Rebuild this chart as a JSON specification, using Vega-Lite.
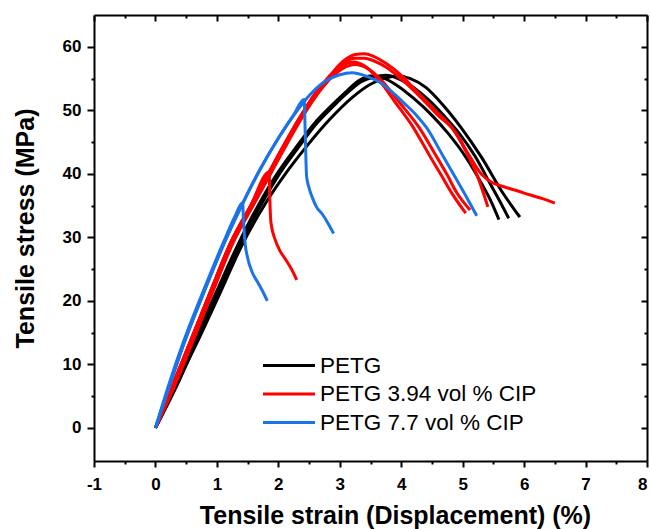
{
  "$schema": "https://vega.github.io/schema/vega-lite/v6.json",
  "width": 553,
  "height": 446,
  "autosize": {"type": "none"},
  "padding": {"left": 94, "top": 15, "right": 3, "bottom": 68},
  "background": "white",
  "config": {"view": {"stroke": null}, "font": "Liberation Sans"},
  "data": {"values": [
    {"s":"PETG","c":"B1","x":0,"y":0},{"s":"PETG","c":"B1","x":0.32,"y":6.9},{"s":"PETG","c":"B1","x":0.64,"y":13.9},{"s":"PETG","c":"B1","x":1.0,"y":21.6},{"s":"PETG","c":"B1","x":1.32,"y":28.4},{"s":"PETG","c":"B1","x":1.7,"y":35.5},{"s":"PETG","c":"B1","x":2.0,"y":40.3},{"s":"PETG","c":"B1","x":2.29,"y":44.2},{"s":"PETG","c":"B1","x":2.6,"y":48.1},{"s":"PETG","c":"B1","x":2.84,"y":50.5},{"s":"PETG","c":"B1","x":3.1,"y":52.9},{"s":"PETG","c":"B1","x":3.3,"y":54.6},{"s":"PETG","c":"B1","x":3.5,"y":55.4},{"s":"PETG","c":"B1","x":3.7,"y":55.1},{"s":"PETG","c":"B1","x":3.95,"y":53.8},{"s":"PETG","c":"B1","x":4.2,"y":51.9},{"s":"PETG","c":"B1","x":4.5,"y":49.2},{"s":"PETG","c":"B1","x":4.76,"y":46.4},{"s":"PETG","c":"B1","x":5.06,"y":42.5},{"s":"PETG","c":"B1","x":5.3,"y":38.6},{"s":"PETG","c":"B1","x":5.45,"y":35.9},{"s":"PETG","c":"B1","x":5.59,"y":32.8},
    {"s":"PETG","c":"B2","x":0,"y":0},{"s":"PETG","c":"B2","x":0.36,"y":6.9},{"s":"PETG","c":"B2","x":0.68,"y":13.9},{"s":"PETG","c":"B2","x":1.04,"y":21.6},{"s":"PETG","c":"B2","x":1.36,"y":28.4},{"s":"PETG","c":"B2","x":1.74,"y":35.5},{"s":"PETG","c":"B2","x":2.04,"y":40.3},{"s":"PETG","c":"B2","x":2.33,"y":44.2},{"s":"PETG","c":"B2","x":2.64,"y":48.1},{"s":"PETG","c":"B2","x":2.88,"y":50.5},{"s":"PETG","c":"B2","x":3.14,"y":52.9},{"s":"PETG","c":"B2","x":3.35,"y":54.5},{"s":"PETG","c":"B2","x":3.55,"y":55.2},{"s":"PETG","c":"B2","x":3.75,"y":55.5},{"s":"PETG","c":"B2","x":3.95,"y":55.0},{"s":"PETG","c":"B2","x":4.2,"y":53.6},{"s":"PETG","c":"B2","x":4.45,"y":51.6},{"s":"PETG","c":"B2","x":4.7,"y":49.1},{"s":"PETG","c":"B2","x":4.95,"y":46.3},{"s":"PETG","c":"B2","x":5.2,"y":42.8},{"s":"PETG","c":"B2","x":5.45,"y":38.4},{"s":"PETG","c":"B2","x":5.62,"y":35.4},{"s":"PETG","c":"B2","x":5.75,"y":33.0},
    {"s":"PETG","c":"B3","x":0,"y":0},{"s":"PETG","c":"B3","x":0.35,"y":7.0},{"s":"PETG","c":"B3","x":0.7,"y":13.9},{"s":"PETG","c":"B3","x":1.05,"y":21.2},{"s":"PETG","c":"B3","x":1.4,"y":28.6},{"s":"PETG","c":"B3","x":1.8,"y":35.5},{"s":"PETG","c":"B3","x":2.1,"y":39.8},{"s":"PETG","c":"B3","x":2.45,"y":44.2},{"s":"PETG","c":"B3","x":2.83,"y":48.5},{"s":"PETG","c":"B3","x":3.2,"y":52.0},{"s":"PETG","c":"B3","x":3.5,"y":54.1},{"s":"PETG","c":"B3","x":3.75,"y":55.1},{"s":"PETG","c":"B3","x":3.95,"y":55.4},{"s":"PETG","c":"B3","x":4.15,"y":55.0},{"s":"PETG","c":"B3","x":4.4,"y":53.6},{"s":"PETG","c":"B3","x":4.7,"y":50.6},{"s":"PETG","c":"B3","x":4.98,"y":47.2},{"s":"PETG","c":"B3","x":5.3,"y":42.7},{"s":"PETG","c":"B3","x":5.66,"y":36.9},{"s":"PETG","c":"B3","x":5.93,"y":33.2},
    {"s":"PETG 3.94 vol % CIP","c":"R1","x":0,"y":0},{"s":"PETG 3.94 vol % CIP","c":"R1","x":0.29,"y":7.0},{"s":"PETG 3.94 vol % CIP","c":"R1","x":0.58,"y":13.9},{"s":"PETG 3.94 vol % CIP","c":"R1","x":0.9,"y":21.6},{"s":"PETG 3.94 vol % CIP","c":"R1","x":1.23,"y":29.3},{"s":"PETG 3.94 vol % CIP","c":"R1","x":1.55,"y":35.0},{"s":"PETG 3.94 vol % CIP","c":"R1","x":1.85,"y":40.3},{"s":"PETG 3.94 vol % CIP","c":"R1","x":2.1,"y":44.7},{"s":"PETG 3.94 vol % CIP","c":"R1","x":2.35,"y":48.9},{"s":"PETG 3.94 vol % CIP","c":"R1","x":2.62,"y":52.9},{"s":"PETG 3.94 vol % CIP","c":"R1","x":2.85,"y":55.6},{"s":"PETG 3.94 vol % CIP","c":"R1","x":3.05,"y":57.7},{"s":"PETG 3.94 vol % CIP","c":"R1","x":3.25,"y":58.8},{"s":"PETG 3.94 vol % CIP","c":"R1","x":3.4,"y":58.9},{"s":"PETG 3.94 vol % CIP","c":"R1","x":3.55,"y":58.5},{"s":"PETG 3.94 vol % CIP","c":"R1","x":3.75,"y":57.4},{"s":"PETG 3.94 vol % CIP","c":"R1","x":4.0,"y":55.5},{"s":"PETG 3.94 vol % CIP","c":"R1","x":4.25,"y":53.0},{"s":"PETG 3.94 vol % CIP","c":"R1","x":4.55,"y":50.0},{"s":"PETG 3.94 vol % CIP","c":"R1","x":4.83,"y":47.2},{"s":"PETG 3.94 vol % CIP","c":"R1","x":5.05,"y":43.6},{"s":"PETG 3.94 vol % CIP","c":"R1","x":5.25,"y":39.4},{"s":"PETG 3.94 vol % CIP","c":"R1","x":5.41,"y":34.8},
    {"s":"PETG 3.94 vol % CIP","c":"R2","x":0,"y":0},{"s":"PETG 3.94 vol % CIP","c":"R2","x":0.32,"y":7.0},{"s":"PETG 3.94 vol % CIP","c":"R2","x":0.61,"y":13.9},{"s":"PETG 3.94 vol % CIP","c":"R2","x":0.93,"y":21.6},{"s":"PETG 3.94 vol % CIP","c":"R2","x":1.26,"y":29.3},{"s":"PETG 3.94 vol % CIP","c":"R2","x":1.58,"y":35.0},{"s":"PETG 3.94 vol % CIP","c":"R2","x":1.88,"y":40.3},{"s":"PETG 3.94 vol % CIP","c":"R2","x":2.13,"y":44.7},{"s":"PETG 3.94 vol % CIP","c":"R2","x":2.38,"y":48.9},{"s":"PETG 3.94 vol % CIP","c":"R2","x":2.64,"y":52.9},{"s":"PETG 3.94 vol % CIP","c":"R2","x":2.87,"y":55.5},{"s":"PETG 3.94 vol % CIP","c":"R2","x":3.05,"y":57.4},{"s":"PETG 3.94 vol % CIP","c":"R2","x":3.25,"y":58.2},{"s":"PETG 3.94 vol % CIP","c":"R2","x":3.4,"y":58.2},{"s":"PETG 3.94 vol % CIP","c":"R2","x":3.55,"y":57.8},{"s":"PETG 3.94 vol % CIP","c":"R2","x":3.75,"y":56.8},{"s":"PETG 3.94 vol % CIP","c":"R2","x":4.0,"y":54.9},{"s":"PETG 3.94 vol % CIP","c":"R2","x":4.3,"y":52.2},{"s":"PETG 3.94 vol % CIP","c":"R2","x":4.6,"y":49.2},{"s":"PETG 3.94 vol % CIP","c":"R2","x":4.87,"y":46.7},{"s":"PETG 3.94 vol % CIP","c":"R2","x":5.1,"y":43.0},{"s":"PETG 3.94 vol % CIP","c":"R2","x":5.3,"y":40.0},{"s":"PETG 3.94 vol % CIP","c":"R2","x":5.45,"y":38.8},{"s":"PETG 3.94 vol % CIP","c":"R2","x":5.66,"y":38.0},{"s":"PETG 3.94 vol % CIP","c":"R2","x":5.9,"y":37.3},{"s":"PETG 3.94 vol % CIP","c":"R2","x":6.09,"y":36.7},{"s":"PETG 3.94 vol % CIP","c":"R2","x":6.3,"y":36.1},{"s":"PETG 3.94 vol % CIP","c":"R2","x":6.5,"y":35.4},
    {"s":"PETG 3.94 vol % CIP","c":"R3","x":0,"y":0},{"s":"PETG 3.94 vol % CIP","c":"R3","x":0.29,"y":7.0},{"s":"PETG 3.94 vol % CIP","c":"R3","x":0.58,"y":13.9},{"s":"PETG 3.94 vol % CIP","c":"R3","x":0.9,"y":21.6},{"s":"PETG 3.94 vol % CIP","c":"R3","x":1.23,"y":29.3},{"s":"PETG 3.94 vol % CIP","c":"R3","x":1.55,"y":35.0},{"s":"PETG 3.94 vol % CIP","c":"R3","x":1.85,"y":40.3},{"s":"PETG 3.94 vol % CIP","c":"R3","x":2.1,"y":44.7},{"s":"PETG 3.94 vol % CIP","c":"R3","x":2.35,"y":48.9},{"s":"PETG 3.94 vol % CIP","c":"R3","x":2.62,"y":52.9},{"s":"PETG 3.94 vol % CIP","c":"R3","x":2.85,"y":55.4},{"s":"PETG 3.94 vol % CIP","c":"R3","x":3.05,"y":57.1},{"s":"PETG 3.94 vol % CIP","c":"R3","x":3.22,"y":57.6},{"s":"PETG 3.94 vol % CIP","c":"R3","x":3.4,"y":57.0},{"s":"PETG 3.94 vol % CIP","c":"R3","x":3.65,"y":54.6},{"s":"PETG 3.94 vol % CIP","c":"R3","x":3.9,"y":51.3},{"s":"PETG 3.94 vol % CIP","c":"R3","x":4.19,"y":47.4},{"s":"PETG 3.94 vol % CIP","c":"R3","x":4.46,"y":42.9},{"s":"PETG 3.94 vol % CIP","c":"R3","x":4.65,"y":39.8},{"s":"PETG 3.94 vol % CIP","c":"R3","x":4.82,"y":37.0},{"s":"PETG 3.94 vol % CIP","c":"R3","x":5.05,"y":33.8},
    {"s":"PETG 3.94 vol % CIP","c":"R4","x":0,"y":0},{"s":"PETG 3.94 vol % CIP","c":"R4","x":0.33,"y":7.0},{"s":"PETG 3.94 vol % CIP","c":"R4","x":0.62,"y":13.9},{"s":"PETG 3.94 vol % CIP","c":"R4","x":0.94,"y":21.6},{"s":"PETG 3.94 vol % CIP","c":"R4","x":1.27,"y":29.3},{"s":"PETG 3.94 vol % CIP","c":"R4","x":1.59,"y":35.0},{"s":"PETG 3.94 vol % CIP","c":"R4","x":1.89,"y":40.3},{"s":"PETG 3.94 vol % CIP","c":"R4","x":2.14,"y":44.7},{"s":"PETG 3.94 vol % CIP","c":"R4","x":2.39,"y":48.9},{"s":"PETG 3.94 vol % CIP","c":"R4","x":2.65,"y":52.7},{"s":"PETG 3.94 vol % CIP","c":"R4","x":2.87,"y":55.2},{"s":"PETG 3.94 vol % CIP","c":"R4","x":3.05,"y":56.6},{"s":"PETG 3.94 vol % CIP","c":"R4","x":3.25,"y":57.2},{"s":"PETG 3.94 vol % CIP","c":"R4","x":3.45,"y":56.6},{"s":"PETG 3.94 vol % CIP","c":"R4","x":3.7,"y":54.5},{"s":"PETG 3.94 vol % CIP","c":"R4","x":3.95,"y":51.5},{"s":"PETG 3.94 vol % CIP","c":"R4","x":4.29,"y":47.3},{"s":"PETG 3.94 vol % CIP","c":"R4","x":4.57,"y":42.8},{"s":"PETG 3.94 vol % CIP","c":"R4","x":4.75,"y":39.8},{"s":"PETG 3.94 vol % CIP","c":"R4","x":4.9,"y":37.1},{"s":"PETG 3.94 vol % CIP","c":"R4","x":5.12,"y":34.3},
    {"s":"PETG 3.94 vol % CIP","c":"R5","x":0,"y":0},{"s":"PETG 3.94 vol % CIP","c":"R5","x":0.29,"y":7.0},{"s":"PETG 3.94 vol % CIP","c":"R5","x":0.58,"y":13.9},{"s":"PETG 3.94 vol % CIP","c":"R5","x":0.9,"y":21.6},{"s":"PETG 3.94 vol % CIP","c":"R5","x":1.23,"y":29.3},{"s":"PETG 3.94 vol % CIP","c":"R5","x":1.55,"y":35.0},{"s":"PETG 3.94 vol % CIP","c":"R5","x":1.85,"y":40.3},{"s":"PETG 3.94 vol % CIP","c":"R5","x":1.86,"y":36.5},{"s":"PETG 3.94 vol % CIP","c":"R5","x":1.88,"y":32.3},{"s":"PETG 3.94 vol % CIP","c":"R5","x":1.95,"y":29.6},{"s":"PETG 3.94 vol % CIP","c":"R5","x":2.02,"y":28.0},{"s":"PETG 3.94 vol % CIP","c":"R5","x":2.12,"y":26.5},{"s":"PETG 3.94 vol % CIP","c":"R5","x":2.19,"y":25.4},{"s":"PETG 3.94 vol % CIP","c":"R5","x":2.3,"y":23.3},
    {"s":"PETG 7.7 vol % CIP","c":"L1","x":0,"y":0},{"s":"PETG 7.7 vol % CIP","c":"L1","x":0.25,"y":7.2},{"s":"PETG 7.7 vol % CIP","c":"L1","x":0.47,"y":13.4},{"s":"PETG 7.7 vol % CIP","c":"L1","x":0.83,"y":22.3},{"s":"PETG 7.7 vol % CIP","c":"L1","x":1.13,"y":29.3},{"s":"PETG 7.7 vol % CIP","c":"L1","x":1.4,"y":35.0},{"s":"PETG 7.7 vol % CIP","c":"L1","x":1.7,"y":40.7},{"s":"PETG 7.7 vol % CIP","c":"L1","x":2.0,"y":45.6},{"s":"PETG 7.7 vol % CIP","c":"L1","x":2.25,"y":49.2},{"s":"PETG 7.7 vol % CIP","c":"L1","x":2.5,"y":52.3},{"s":"PETG 7.7 vol % CIP","c":"L1","x":2.75,"y":54.5},{"s":"PETG 7.7 vol % CIP","c":"L1","x":3.0,"y":55.6},{"s":"PETG 7.7 vol % CIP","c":"L1","x":3.2,"y":55.9},{"s":"PETG 7.7 vol % CIP","c":"L1","x":3.45,"y":55.3},{"s":"PETG 7.7 vol % CIP","c":"L1","x":3.65,"y":54.4},{"s":"PETG 7.7 vol % CIP","c":"L1","x":3.85,"y":52.9},{"s":"PETG 7.7 vol % CIP","c":"L1","x":4.05,"y":51.1},{"s":"PETG 7.7 vol % CIP","c":"L1","x":4.25,"y":49.2},{"s":"PETG 7.7 vol % CIP","c":"L1","x":4.41,"y":47.3},{"s":"PETG 7.7 vol % CIP","c":"L1","x":4.68,"y":42.8},{"s":"PETG 7.7 vol % CIP","c":"L1","x":5.03,"y":36.9},{"s":"PETG 7.7 vol % CIP","c":"L1","x":5.23,"y":33.4},
    {"s":"PETG 7.7 vol % CIP","c":"L2","x":0,"y":0},{"s":"PETG 7.7 vol % CIP","c":"L2","x":0.23,"y":7.2},{"s":"PETG 7.7 vol % CIP","c":"L2","x":0.45,"y":13.4},{"s":"PETG 7.7 vol % CIP","c":"L2","x":0.81,"y":22.3},{"s":"PETG 7.7 vol % CIP","c":"L2","x":1.11,"y":29.3},{"s":"PETG 7.7 vol % CIP","c":"L2","x":1.29,"y":33.2},{"s":"PETG 7.7 vol % CIP","c":"L2","x":1.42,"y":35.5},{"s":"PETG 7.7 vol % CIP","c":"L2","x":1.43,"y":33.2},{"s":"PETG 7.7 vol % CIP","c":"L2","x":1.46,"y":29.0},{"s":"PETG 7.7 vol % CIP","c":"L2","x":1.5,"y":26.8},{"s":"PETG 7.7 vol % CIP","c":"L2","x":1.58,"y":24.4},{"s":"PETG 7.7 vol % CIP","c":"L2","x":1.66,"y":23.0},{"s":"PETG 7.7 vol % CIP","c":"L2","x":1.74,"y":21.6},{"s":"PETG 7.7 vol % CIP","c":"L2","x":1.82,"y":20.0},
    {"s":"PETG 7.7 vol % CIP","c":"L3","x":0,"y":0},{"s":"PETG 7.7 vol % CIP","c":"L3","x":0.24,"y":7.1},{"s":"PETG 7.7 vol % CIP","c":"L3","x":0.46,"y":13.3},{"s":"PETG 7.7 vol % CIP","c":"L3","x":0.82,"y":22.2},{"s":"PETG 7.7 vol % CIP","c":"L3","x":1.12,"y":29.2},{"s":"PETG 7.7 vol % CIP","c":"L3","x":1.4,"y":34.9},{"s":"PETG 7.7 vol % CIP","c":"L3","x":1.7,"y":40.6},{"s":"PETG 7.7 vol % CIP","c":"L3","x":2.0,"y":45.6},{"s":"PETG 7.7 vol % CIP","c":"L3","x":2.25,"y":49.3},{"s":"PETG 7.7 vol % CIP","c":"L3","x":2.42,"y":51.7},{"s":"PETG 7.7 vol % CIP","c":"L3","x":2.44,"y":45.5},{"s":"PETG 7.7 vol % CIP","c":"L3","x":2.46,"y":39.6},{"s":"PETG 7.7 vol % CIP","c":"L3","x":2.5,"y":37.8},{"s":"PETG 7.7 vol % CIP","c":"L3","x":2.56,"y":36.1},{"s":"PETG 7.7 vol % CIP","c":"L3","x":2.62,"y":34.8},{"s":"PETG 7.7 vol % CIP","c":"L3","x":2.72,"y":33.6},{"s":"PETG 7.7 vol % CIP","c":"L3","x":2.81,"y":32.2},{"s":"PETG 7.7 vol % CIP","c":"L3","x":2.9,"y":30.6}
  ]},
  "layer": [
    {
      "mark": {"type": "line", "strokeWidth": 3, "interpolate": "monotone"},
      "encoding": {
        "x": {"field": "x", "type": "quantitative",
          "scale": {"domain": [-1, 8], "nice": false, "zero": false},
          "axis": {"orient": "bottom",
            "values": [-1,-0.5,0,0.5,1,1.5,2,2.5,3,3.5,4,4.5,5,5.5,6,6.5,7,7.5,8],
            "labelExpr": "datum.value % 1 === 0 ? '' + datum.value : ''",
            "title": "Tensile strain (Displacement) (%)",
            "titleFont": "Liberation Sans", "titleFontSize": 25, "titleFontWeight": "bold", "titleColor": "black",
            "titleX": 301, "titleY": 62, "titleBaseline": "alphabetic",
            "labelFont": "Liberation Sans", "labelFontSize": 17, "labelFontWeight": "bold", "labelColor": "black", "labelPadding": 9,
            "labelOverlap": false, "labelFlush": false,
            "labelAlign": {"condition": {"test": "datum.value === 8", "value": "right"}, "value": "center"},
            "tickSize": {"condition": {"test": "datum.value % 1 !== 0", "value": 3}, "value": 6},
            "tickWidth": 2, "tickColor": "black", "domainColor": "black", "domainWidth": 2, "grid": false}},
        "y": {"field": "y", "type": "quantitative",
          "scale": {"domain": [-5.2, 65], "nice": false, "zero": false},
          "axis": {"orient": "left",
            "values": [0,5,10,15,20,25,30,35,40,45,50,55,60],
            "labelExpr": "datum.value % 10 === 0 ? '' + datum.value : ''",
            "title": "Tensile stress (MPa)",
            "titleFont": "Liberation Sans", "titleFontSize": 25, "titleFontWeight": "bold", "titleColor": "black",
            "titleX": -61, "titleY": 213, "titleBaseline": "alphabetic", "titleAngle": -90,
            "labelFont": "Liberation Sans", "labelFontSize": 17, "labelFontWeight": "bold", "labelColor": "black", "labelPadding": 6,
            "labelOverlap": false, "labelFlush": false,
            "tickSize": {"condition": {"test": "datum.value % 10 !== 0", "value": 3}, "value": 7},
            "tickWidth": 2, "tickColor": "black", "domainColor": "black", "domainWidth": 2, "grid": false}},
        "color": {"field": "s", "type": "nominal",
          "scale": {"domain": ["PETG", "PETG 3.94 vol % CIP", "PETG 7.7 vol % CIP"], "range": ["#000000", "#ff0000", "#1a73e8"]},
          "legend": {"orient": "none", "legendX": 180.5, "legendY": 336, "title": null,
            "symbolType": "M-2,0H2", "symbolSize": 676, "symbolStrokeWidth": 3,
            "labelFont": "Liberation Sans", "labelFontSize": 22.5, "labelColor": "black", "labelLimit": 400,
            "labelOffset": 16.5, "rowPadding": 2.5, "padding": 0}},
        "detail": {"field": "c", "type": "nominal"}
      }
    },
    {
      "mark": {"type": "point", "opacity": 0},
      "encoding": {
        "x": {"field": "x", "type": "quantitative",
          "scale": {"domain": [-1, 8], "nice": false, "zero": false},
          "axis": {"orient": "top", "values": [-1,-0.5,0,0.5,1,1.5,2,2.5,3,3.5,4,4.5,5,5.5,6,6.5,7,7.5,8],
            "labels": false, "title": null,
            "tickSize": {"condition": {"test": "datum.value % 1 !== 0", "value": -3}, "value": -6},
            "tickWidth": 2, "tickColor": "black", "domainColor": "black", "domainWidth": 2, "grid": false}},
        "y": {"field": "y", "type": "quantitative",
          "scale": {"domain": [-5.2, 65], "nice": false, "zero": false},
          "axis": {"orient": "right", "values": [0,5,10,15,20,25,30,35,40,45,50,55,60],
            "labels": false, "title": null,
            "tickSize": {"condition": {"test": "datum.value % 10 !== 0", "value": -3}, "value": -6},
            "tickWidth": 2, "tickColor": "black", "domainColor": "black", "domainWidth": 2, "grid": false}}
      }
    }
  ],
  "resolve": {"axis": {"x": "independent", "y": "independent"}}
}
